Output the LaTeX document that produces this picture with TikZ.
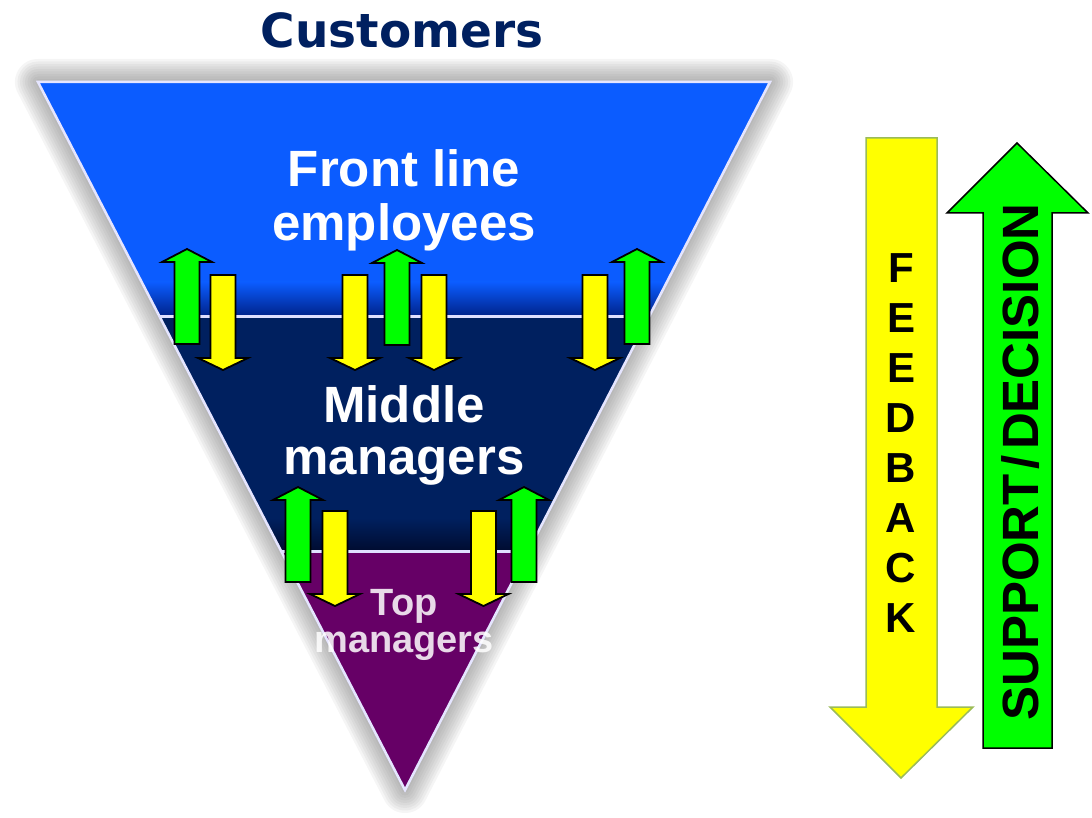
\documentclass[tikz,border=0pt]{standalone}
\usepackage{fontspec}
\setmainfont{Liberation Sans}
\newfontfamily\custfont{DejaVu Sans}
\definecolor{frontblue}{HTML}{0B5CFF}
\definecolor{midnavy}{HTML}{00205F}
\definecolor{darknavy}{HTML}{000C30}
\definecolor{deepblue}{HTML}{00238A}
\definecolor{toppurple}{HTML}{660066}
\definecolor{custnavy}{HTML}{002060}
\definecolor{arrgreen}{HTML}{00FF00}
\definecolor{arryellow}{HTML}{FFFF00}
\definecolor{yedge}{HTML}{9BBB59}
\tikzset{
  uparr/.pic={\path[pic actions] (0,0) -- (25,13) -- (12.5,13) -- (12.5,95) -- (-12.5,95) -- (-12.5,13) -- (-25,13) -- cycle;},
  dnarr/.pic={\path[pic actions] (0,0) -- (25,-12) -- (12.5,-12) -- (12.5,-95) -- (-12.5,-95) -- (-12.5,-12) -- (-25,-12) -- cycle;},
  greenarr/.style={fill=arrgreen, draw=black, line width=1.8pt, line join=miter},
  yellowarr/.style={fill=arryellow, draw=black, line width=1.8pt, line join=miter},
  whitelabel/.style={text=white, font=\bfseries, align=center, inner sep=0pt},
  divider/.style={draw=white!88!blue, line width=3pt},
}
\begin{document}
\begin{tikzpicture}[x=1pt,y=-1pt]
\useasboundingbox (0,0) rectangle (1092,818);
% triangle corners
\coordinate (TL) at (38,82);
\coordinate (TR) at (770,82);
\coordinate (AP) at (405,790);
\coordinate (D1L) at (159.3,316);
\coordinate (D1R) at (649.4,316);
\coordinate (D2L) at (281.1,551);
\coordinate (D2R) at (528.2,551);
% shadow halo
\foreach \w in {46,41,...,6}
  \draw[line width=\w pt, black!60, opacity=0.065, line join=round] (TL) -- (TR) -- (AP) -- cycle;
% bands
\fill[frontblue] (TL) -- (TR) -- (D1R) -- (D1L) -- cycle;
\fill[midnavy] (D1L) -- (D1R) -- (D2R) -- (D2L) -- cycle;
\fill[toppurple] (D2L) -- (D2R) -- (AP) -- cycle;
\begin{scope}
  \clip (TL) -- (TR) -- (AP) -- cycle;
  \shade[top color=frontblue, bottom color=deepblue] (0,282) rectangle (800,316);
  \shade[top color=midnavy, bottom color=darknavy] (0,518) rectangle (800,551);
\end{scope}
\draw[white!90!blue, line width=2.5pt, line join=miter] (TL) -- (TR) -- (AP) -- cycle;
\draw[divider] (D1L) -- (D1R);
\draw[divider] (D2L) -- (D2R);
% title
\node[text=custnavy, font=\custfont\bfseries\fontsize{47}{50}\selectfont, anchor=base, inner sep=0pt] (cust) at (402,48) {Customers};
% labels (base anchor = baseline of last line)
\node[whitelabel, font=\bfseries\fontsize{51}{54}\selectfont, anchor=base] (front) at (404,241) {Front line\\employees};
\node[whitelabel, font=\bfseries\fontsize{51}{52}\selectfont, anchor=base] (mid) at (404,474) {Middle\\managers};
\node[whitelabel, text opacity=0.85, font=\bfseries\fontsize{38}{37}\selectfont, anchor=base] (top) at (404,652) {Top\\managers};
% small arrows, upper row
\pic (ga1) [greenarr] at (187,249) {uparr};
\pic (ya1) [yellowarr] at (223,370) {dnarr};
\pic (ya2) [yellowarr] at (355,370) {dnarr};
\pic (ga2) [greenarr] at (397,250) {uparr};
\pic (ya3) [yellowarr] at (434,370) {dnarr};
\pic (ya4) [yellowarr] at (595,370) {dnarr};
\pic (ga3) [greenarr] at (637,249) {uparr};
% small arrows, lower row
\pic (gb1) [greenarr] at (298,487) {uparr};
\pic (yb1) [yellowarr] at (335,606) {dnarr};
\pic (yb2) [yellowarr] at (483.5,606) {dnarr};
\pic (gb2) [greenarr] at (524,487) {uparr};
% big arrows
\draw[fill=arryellow, draw=yedge, line width=1.5pt, line join=miter] (866,138) -- (937,138) -- (937,707) -- (973,707) -- (901,778) -- (830,707) -- (866,707) -- cycle;
\draw[fill=arrgreen, draw=black, line width=1.5pt, line join=miter] (1017,143) -- (1088,213) -- (1052,213) -- (1052,748) -- (983,748) -- (983,213) -- (947,213) -- cycle;
\node[font=\bfseries\fontsize{42}{50}\selectfont, align=center, anchor=base, inner sep=0pt] (fb) at (901,632) {F\\E\\E\\D\\B\\A\\C\\K};
\node[font=\bfseries\fontsize{51}{51}\selectfont, rotate=90, inner sep=0pt] (sd) at (1021,462) {SUPPORT\kern5pt/\kern5pt DECISION};
\end{tikzpicture}
\end{document}
